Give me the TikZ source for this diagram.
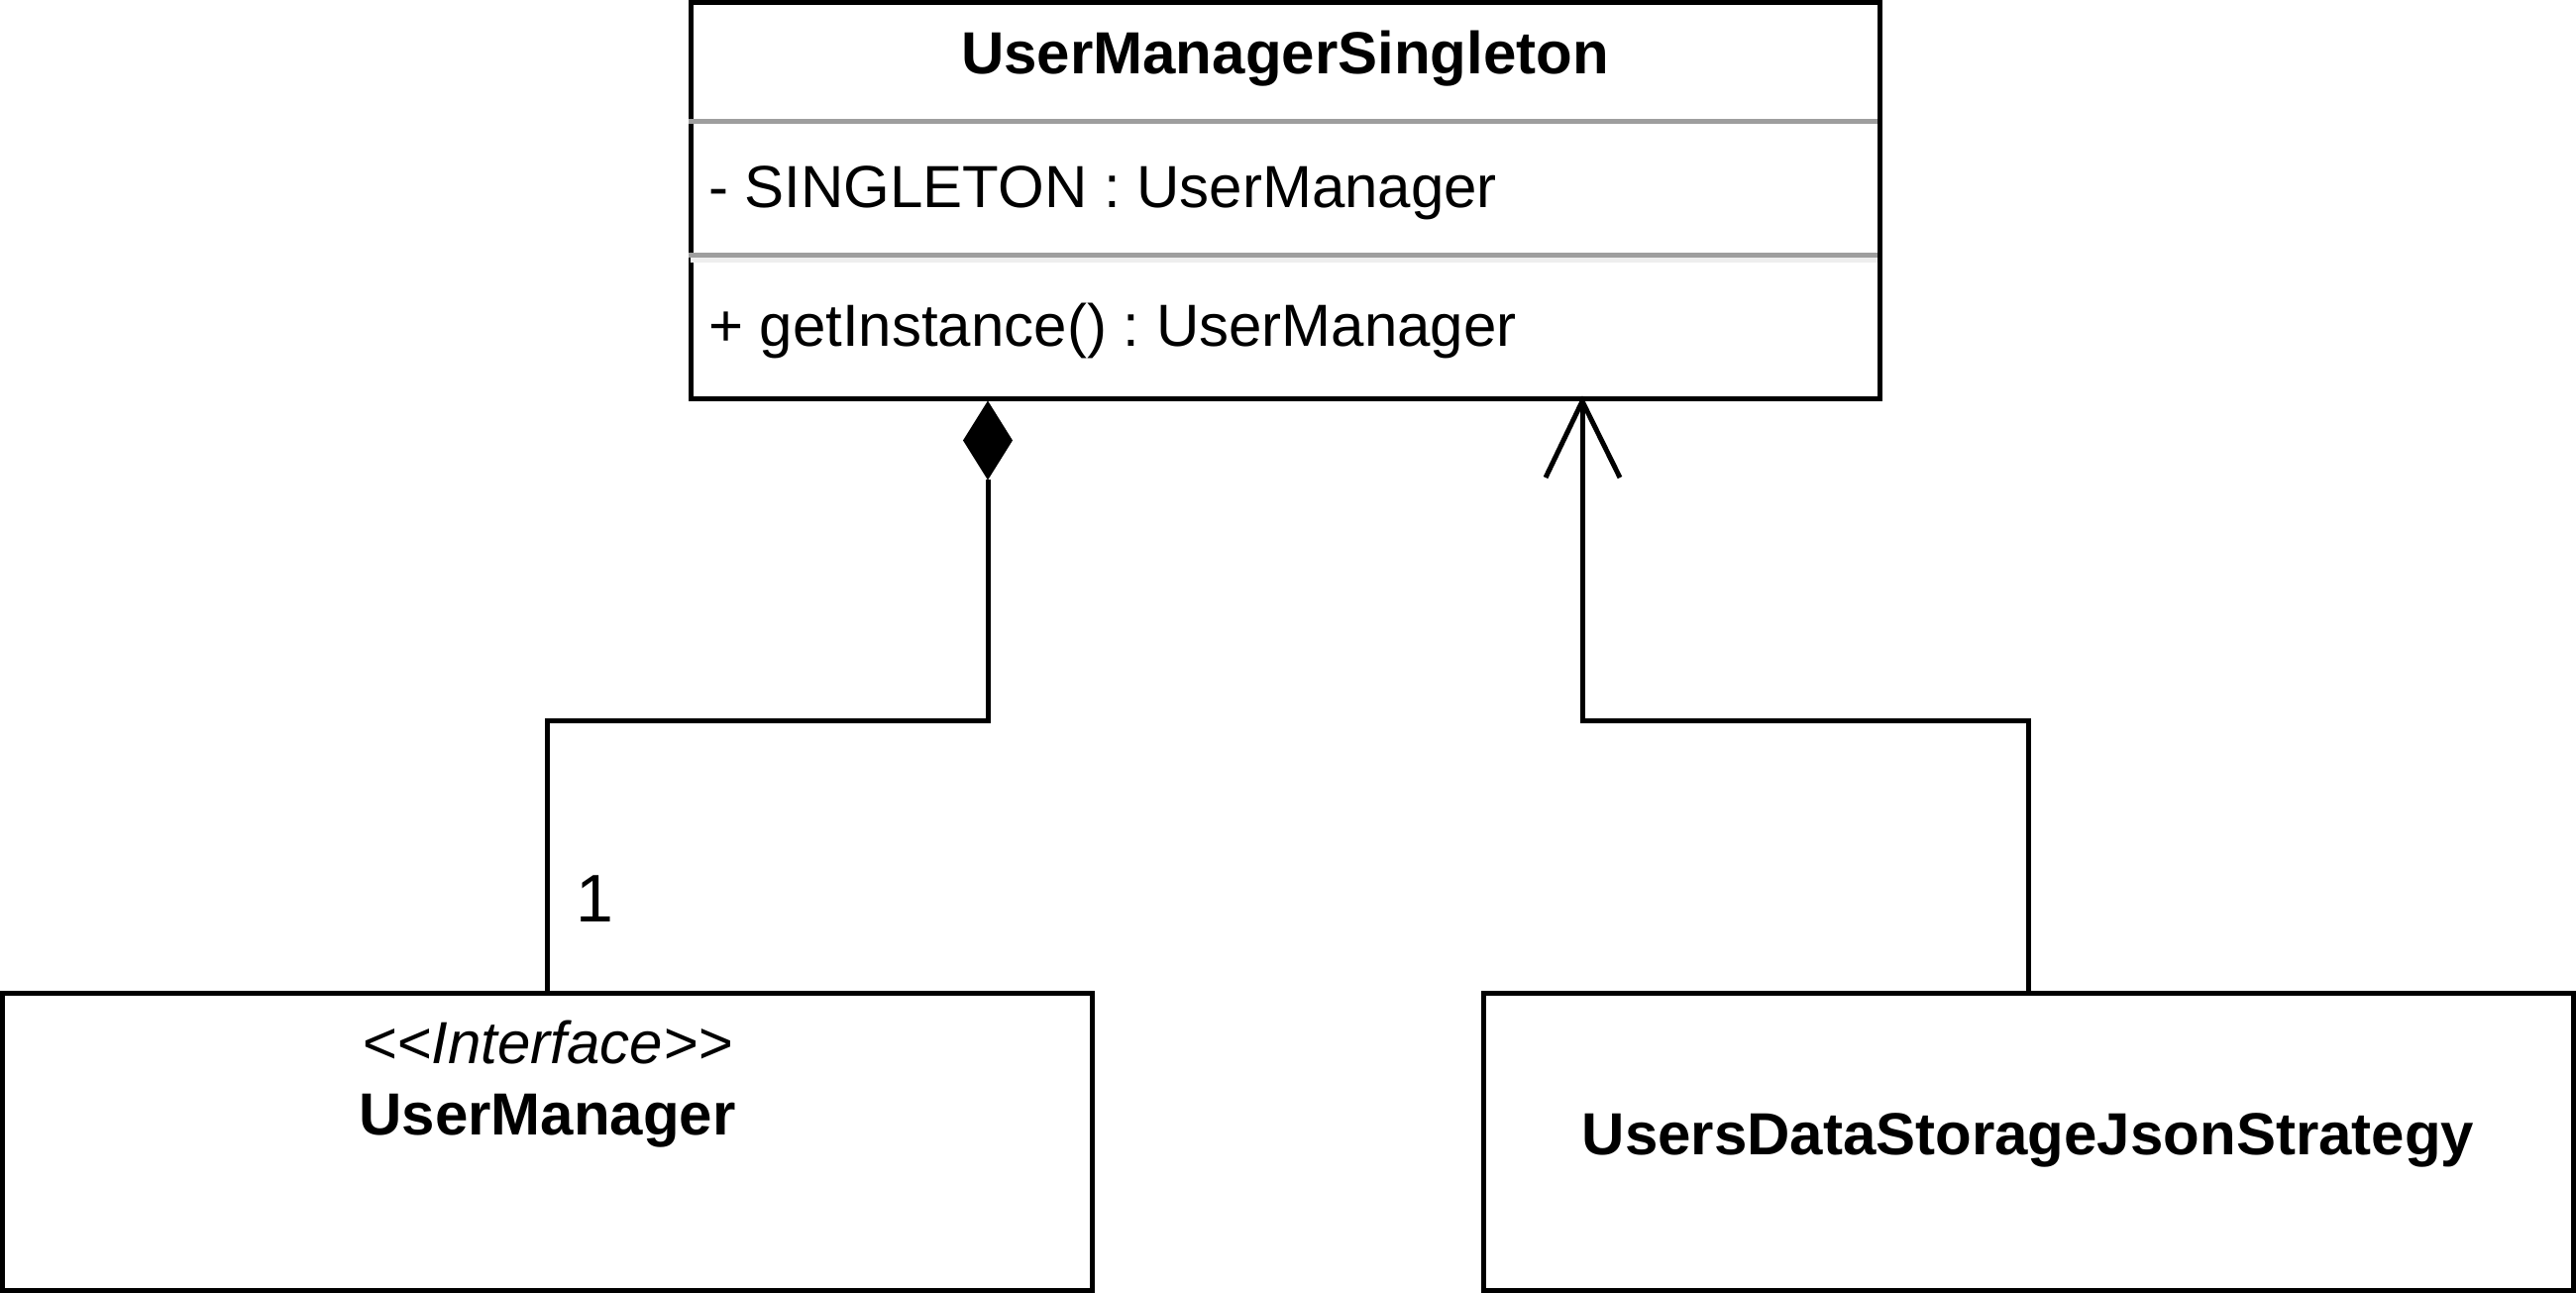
\documentclass[tikz,border=0pt]{standalone}
\usepackage{fontspec}
\setmainfont{Liberation Sans}[Ligatures=TeXOff]
\definecolor{sepgray}{RGB}{158,158,158}
\definecolor{shadegray}{RGB}{238,238,238}
\frenchspacing
\begin{document}
\begin{tikzpicture}[x=1pt,y=-1pt,
  umlbox/.style={draw=black,line width=5pt,fill=white,rectangle,inner sep=0pt,line join=miter},
  txt/.style={inner sep=0pt,font=\fontsize{60pt}{72pt}\selectfont},
  btxt/.style={txt,font=\fontsize{60pt}{72pt}\selectfont\bfseries},
  itxt/.style={txt,font=\fontsize{60pt}{72pt}\selectfont\itshape},
  lbl/.style={inner sep=0pt,font=\fontsize{68pt}{80pt}\selectfont},
  conn/.style={draw=black,line width=5pt,line join=miter},
  sepline/.style={draw=sepgray,line width=5pt},
  shadeline/.style={draw=shadegray,line width=5pt}
]
\useasboundingbox (0,0) rectangle (2600,1305);

% class boxes
\node[umlbox,minimum width=1200pt,minimum height=400pt] (singleton) at (1297,202.5) {};
\node[umlbox,minimum width=1100pt,minimum height=300pt] (iface) at (552.5,1152.5) {};
\node[umlbox,minimum width=1100pt,minimum height=300pt] (json) at (2047,1152.5) {};

% compartments of the singleton class
\draw[shadeline] (697,262.5) -- (1894.5,262.5);
\draw[sepline] (694.5,122.5) -- (1894.5,122.5);
\draw[sepline] (694.5,257.5) -- (1894.5,257.5);

% texts
\node[btxt,anchor=base] (title) at (1297,75) {UserManagerSingleton};
\node[txt,anchor=base west] (attr) at (715,210) {- SINGLETON : UserManager};
\node[txt,anchor=base west] (meth) at (715,350) {+ getInstance() : UserManager};
\node[itxt,anchor=base] (stereo) at (552.5,1073) {<<Interface>>};
\node[btxt,anchor=base] (ifname) at (552.5,1145) {UserManager};
\node[btxt,anchor=base] (jsonname) at (2047,1165) {UsersDataStorageJsonStrategy};

% connector points
\coordinate (diamtip) at (997,404.5);
\coordinate (diamend) at (997,484);
\coordinate (arrtip) at (1597,405);
\coordinate (midrow) at (0,727);

% composition: UserManager -> UserManagerSingleton (filled diamond)
\draw[conn] (iface.north) -- (iface.north |- midrow) -| (diamend);
\fill[black] (997,404.5) -- (1022,444.5) -- (997,484.5) -- (972,444.5) -- cycle;

% association: UsersDataStorageJsonStrategy -> UserManagerSingleton (open arrow)
\draw[conn] (json.north) -- (json.north |- midrow) -| (arrtip);
\draw[conn,line cap=butt] (1560,482) -- (arrtip) -- (1635,482);

% multiplicity
\node[lbl,anchor=base west] (mult) at (581,930) {1};
\end{tikzpicture}
\end{document}
